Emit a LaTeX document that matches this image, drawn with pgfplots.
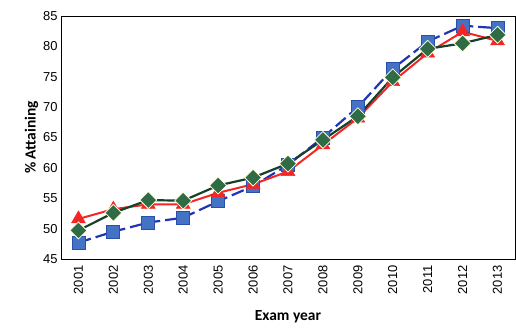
\documentclass[border=0pt]{standalone}
\usepackage{pgfplots}
\pgfplotsset{compat=1.18}
\usepackage{fontspec}
\setmainfont{Liberation Sans}
\newfontfamily\labfont{Carlito}
\definecolor{bluefill}{HTML}{4472C4}
\definecolor{blueedge}{HTML}{2A4FA8}
\definecolor{blueline}{HTML}{1F35B5}
\definecolor{redc}{HTML}{F42525}
\definecolor{greenfill}{HTML}{2F6B45}
\definecolor{greenline}{HTML}{17402A}
\begin{document}
\begin{tikzpicture}
\begin{axis}[
  scale only axis,
  width=454bp, height=243bp,
  xmin=2000.5, xmax=2013.5,
  ymin=45, ymax=85,
  ytick={45,50,...,85},
  xtick={2001,...,2013},
  x tick label style={rotate=90, anchor=east, font=\fontsize{13}{13}\selectfont, xshift=-3bp},
  y tick label style={font=\fontsize{13}{13}\selectfont},
  /pgf/number format/assume math mode=true,
  /pgf/number format/1000 sep={},
  major tick length=0pt,
  axis line style={black, line width=1pt},
  xlabel={\labfont\bfseries\fontsize{15.5}{16}\selectfont Exam year},
  ylabel={\labfont\bfseries\fontsize{15.5}{16}\selectfont \% Attaining},
  xlabel style={yshift=-9bp},
  ylabel style={yshift=-2bp},
  clip=false,
]
\addplot[blueline, line width=2.2pt, dash pattern=on 13pt off 5pt,
  mark=square*, mark size=6.5bp, mark options={solid, fill=bluefill, draw=blueedge, line width=0.8pt}]
coordinates {(2001,47.7)(2002,49.5)(2003,51.0)(2004,51.8)(2005,54.5)(2006,57.0)(2007,60.5)(2008,65.0)(2009,70.0)(2010,76.3)(2011,80.8)(2012,83.4)(2013,83.0)};
\addplot[redc, line width=2pt,
  mark=triangle*, mark size=8bp, mark options={solid, fill=redc, draw=redc, line width=0.5pt}]
coordinates {(2001,51.6)(2002,53.2)(2003,54.0)(2004,54.0)(2005,55.9)(2006,57.3)(2007,59.4)(2008,63.8)(2009,68.2)(2010,74.2)(2011,78.9)(2012,82.4)(2013,80.9)};
\addplot[greenline, line width=2.2pt,
  mark=square*, mark size=6bp, mark options={solid, rotate=45, fill=greenfill, draw=white!85!yellow, line width=0.8pt}]
coordinates {(2001,49.7)(2002,52.6)(2003,54.7)(2004,54.6)(2005,57.1)(2006,58.4)(2007,60.7)(2008,64.6)(2009,68.5)(2010,74.9)(2011,79.6)(2012,80.5)(2013,81.9)};
\end{axis}
\path (current axis.south west) ++(-61bp,-70bp) coordinate (bbA);
\path (current axis.north east) ++(1bp,16bp) coordinate (bbB);
\path (bbA) rectangle (bbB);
\end{tikzpicture}
\end{document}
